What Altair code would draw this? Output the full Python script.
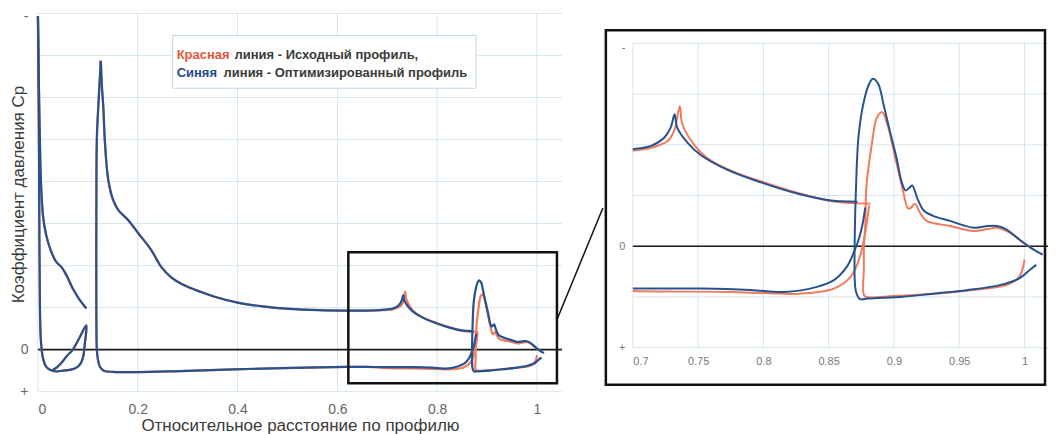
import altair as alt
import pandas as pd

# ---------------- data ----------------
# slat (shared by both profiles)
slat_upper_x = [0.0, 0.002, 0.004, 0.006, 0.010, 0.016, 0.026, 0.036, 0.048, 0.058, 0.070, 0.084, 0.097]
slat_upper_y = [7.94, 6.2, 4.9, 4.0, 3.2, 2.75, 2.35, 2.1, 1.95, 1.75, 1.45, 1.18, 0.98]
slat_lower_x = [0.0, 0.002, 0.003, 0.004, 0.006, 0.010, 0.016, 0.024, 0.037, 0.050, 0.064, 0.078, 0.086, 0.091, 0.094, 0.097,
                0.084, 0.070, 0.058, 0.048, 0.038, 0.030]
slat_lower_y = [7.94, 5.0, 2.5, 1.0, 0.2, -0.2, -0.40, -0.48, -0.52, -0.50, -0.48, -0.42, -0.32, -0.15, 0.15, 0.58,
                0.30, 0.00, -0.15, -0.30, -0.42, -0.48]

# main element, forward part (both profiles coincide)
main_upper_front_x = [0.126, 0.128, 0.131, 0.134, 0.141, 0.151, 0.161, 0.181, 0.201, 0.227, 0.247, 0.267, 0.290, 0.327,
                      0.354, 0.400, 0.450, 0.504, 0.564, 0.617, 0.660]
main_upper_front_y = [6.87, 6.3, 5.77, 4.98, 4.03, 3.55, 3.32, 3.08, 2.77, 2.37, 1.97, 1.72, 1.55, 1.37,
                      1.26, 1.12, 1.03, 0.97, 0.94, 0.93, 0.93]
main_lower_front_x = [0.126, 0.121, 0.118, 0.117, 0.117, 0.118, 0.120, 0.124, 0.132, 0.150, 0.200, 0.284, 0.450, 0.617, 0.660]
main_lower_front_y = [6.87, 5.8, 5.0, 3.0, 1.0, 0.0, -0.22, -0.40, -0.50, -0.53, -0.535, -0.51, -0.45, -0.41, -0.41]

# main element, aft part
blue_main_upper_x = [0.700, 0.714, 0.724, 0.729, 0.732, 0.734, 0.742, 0.752, 0.773, 0.798, 0.823, 0.849, 0.872]
blue_main_upper_y = [0.957, 0.99, 1.07, 1.17, 1.30, 1.17, 1.02, 0.90, 0.75, 0.63, 0.53, 0.457, 0.44]
red_main_upper_x = [0.700, 0.714, 0.727, 0.732, 0.736, 0.738, 0.747, 0.757, 0.778, 0.803, 0.828, 0.854, 0.882]
red_main_upper_y = [0.943, 0.97, 1.04, 1.15, 1.38, 1.20, 1.00, 0.87, 0.73, 0.62, 0.52, 0.44, 0.42]
blue_main_lower_x = [0.700, 0.752, 0.790, 0.816, 0.841, 0.854, 0.864, 0.869, 0.873, 0.876, 0.878]
blue_main_lower_y = [-0.417, -0.417, -0.43, -0.45, -0.40, -0.333, -0.20, -0.067, 0.067, 0.22, 0.38]
red_main_lower_x = [0.700, 0.776, 0.828, 0.854, 0.867, 0.874, 0.878, 0.881]
red_main_lower_y = [-0.44, -0.45, -0.467, -0.417, -0.30, -0.10, 0.133, 0.40]

# flap
blue_flap_x = [1.009, 1.004, 0.996, 0.981, 0.956, 0.930, 0.905, 0.880, 0.874, 0.871, 0.870, 0.870, 0.871, 0.873,
               0.877, 0.881, 0.884, 0.888, 0.892, 0.897, 0.902, 0.906, 0.909, 0.912, 0.914, 0.918, 0.923, 0.930,
               0.943, 0.961, 0.972, 0.979, 0.986, 0.996, 1.007, 1.014]
blue_flap_y = [-0.183, -0.233, -0.317, -0.383, -0.433, -0.467, -0.50, -0.515, -0.52, -0.45, -0.333, 0.10, 0.60, 1.10,
               1.43, 1.60, 1.65, 1.60, 1.40, 1.13, 0.87, 0.63, 0.55, 0.58, 0.60, 0.47, 0.35, 0.30,
               0.25, 0.183, 0.20, 0.20, 0.167, 0.067, -0.033, -0.083]
red_flap_x = [1.000, 0.996, 0.986, 0.960, 0.930, 0.900, 0.879, 0.877, 0.877, 0.877, 0.878, 0.879, 0.883, 0.887,
              0.891, 0.895, 0.900, 0.906, 0.911, 0.913, 0.916, 0.920, 0.925, 0.943, 0.961, 0.972, 0.979, 0.989,
              1.001, 1.007]
red_flap_y = [-0.133, -0.30, -0.383, -0.43, -0.467, -0.49, -0.50, -0.48, -0.20, 0.00, 0.20, 0.60, 1.00, 1.27,
              1.32, 1.20, 0.93, 0.60, 0.37, 0.38, 0.42, 0.33, 0.25, 0.20, 0.15, 0.17, 0.183, 0.133,
              0.017, -0.03]

# zoom box (left panel, data units) and connector
zoom_box = {"x": 0.622, "x2": 1.04, "y": -0.80, "y2": 2.32}
connector = {"x": 1.04, "y": 0.71, "x2": 1.132, "y2": 3.37}

legend_words = ["Красная", "Синяя"]
legend_rest = ["линия - Исходный профиль,", "линия - Оптимизированный профиль"]

# gridlines and tick labels
grid_x_left = [0, 0.2, 0.4, 0.6, 0.8, 1.0]
grid_y_left = [-1, 0, 1, 2, 3, 4, 5, 6, 7, 8]
label_y_left = [-1, 0, 7.93]            # "+", "0", "-"
grid_x_right = [0.7, 0.75, 0.8, 0.85, 0.9, 0.95, 1.0]
grid_y_right = [-1, -0.5, 0, 0.5, 1, 1.5, 2]
label_y_right = [-1, 0, 1.96]           # "+", "0", "-"

# ---------------- build tables ----------------
def path(seg, xs, ys):
    return [{"seg": seg, "i": i, "x": a, "y": b} for i, (a, b) in enumerate(zip(xs, ys))]

blue_rows = (path("slat_u", slat_upper_x, slat_upper_y) + path("slat_l", slat_lower_x, slat_lower_y)
             + path("main_u", main_upper_front_x + blue_main_upper_x, main_upper_front_y + blue_main_upper_y)
             + path("main_l", main_lower_front_x + blue_main_lower_x, main_lower_front_y + blue_main_lower_y)
             + path("flap", blue_flap_x, blue_flap_y))
red_rows = (path("slat_u", slat_upper_x, slat_upper_y) + path("slat_l", slat_lower_x, slat_lower_y)
            + path("main_u", main_upper_front_x + red_main_upper_x, main_upper_front_y + red_main_upper_y)
            + path("main_l", main_lower_front_x + red_main_lower_x, main_lower_front_y + red_main_lower_y)
            + path("flap", red_flap_x, red_flap_y))
df_blue = pd.DataFrame(blue_rows)
df_red = pd.DataFrame(red_rows)
dummy = pd.DataFrame({"a": [0]})

BLUE = "#27528f"
RED = "#f07a5c"
GRID = "#d6e5f0"
FONT = "Liberation Sans"
LBL = "datum.value<-0.5?'+':datum.value>1.5?'-':'0'"
NOVIEW = alt.ViewBackground(stroke="transparent", strokeWidth=0)

# ---------------- left panel ----------------
xs_L = alt.Scale(domain=[0, 1.05], nice=False, zero=False)
ys_L = alt.Scale(domain=[-1, 8], nice=False, zero=False)
ax_xL = alt.Axis(values=grid_x_left, format=".1~f", title="Относительное расстояние по профилю",
                 grid=False, domain=False, ticks=False, tickSize=0,
                 labelFontSize=14, labelColor="#666", labelPadding=11,
                 titleFontSize=17, titleColor="#3a3a3a", titleFontWeight="normal", titlePadding=1)
ax_yL = alt.Axis(values=label_y_left, labelExpr=LBL, grid=False, domain=False, ticks=False, tickSize=0,
                 labelFontSize=14, labelColor="#666", labelPadding=10,
                 title="Коэффициент давления Ср", titleFontSize=17, titleColor="#3a3a3a",
                 titleFontWeight="normal", titleX=-19, titleY=181, titleAngle=270,
                 titleBaseline="middle", titleAlign="center")


def XL(f):
    return alt.X(f + ":Q", scale=xs_L, axis=ax_xL)


def YL(f):
    return alt.Y(f + ":Q", scale=ys_L, axis=ax_yL)


def lines(df, color, sw, X, Y, clip):
    return alt.Chart(df).mark_line(color=color, strokeWidth=sw, clip=clip, strokeJoin="round",
                                   interpolate="catmull-rom").encode(
        x=X("x"), y=Y("y"), detail="seg:N", order="i:Q")


left_gx = alt.Chart(pd.DataFrame({"v": grid_x_left})).mark_rule(color=GRID, strokeWidth=1).encode(x=XL("v"))
left_gy = alt.Chart(pd.DataFrame({"v": grid_y_left})).mark_rule(color=GRID, strokeWidth=1).encode(y=YL("v"))
left_zero = alt.Chart(dummy).mark_rule(color="#1a1a1a", strokeWidth=1.6).encode(y=alt.Y(datum=0, scale=ys_L, axis=ax_yL))
left_box = alt.Chart(pd.DataFrame([zoom_box])).mark_rect(filled=False, stroke="#111", strokeWidth=2.5).encode(
    x=XL("x"), x2="x2:Q", y=YL("y"), y2="y2:Q")
left_conn = alt.Chart(pd.DataFrame([connector])).mark_rule(color="#111", strokeWidth=1.5, clip=False).encode(
    x=XL("x"), x2="x2:Q", y=YL("y"), y2="y2:Q")
leg_box = alt.Chart(dummy).mark_rect(fill="white", stroke="#c3d5e6", strokeWidth=1).encode(
    x=alt.value(135), x2=alt.value(439), y=alt.value(22), y2=alt.value(75))


def leg_text(txt, x, y, color):
    return alt.Chart(dummy).mark_text(align="left", baseline="middle", fontSize=13, fontWeight="bold",
                                      color=color, font=FONT).encode(
        x=alt.value(x), y=alt.value(y), text=alt.value(txt))


left = alt.layer(
    left_gx, left_gy, left_zero,
    lines(df_red, RED, 2.2, XL, YL, False),
    lines(df_blue, BLUE, 2.2, XL, YL, False),
    left_box, left_conn, leg_box,
    leg_text(legend_words[0], 139, 42, "#e8553a"),
    leg_text(legend_words[1], 139, 60, "#1f4a8a"),
    leg_text(legend_rest[0], 197, 42, "#3a3a3a"),
    leg_text(legend_rest[1], 186, 60, "#3a3a3a"),
).properties(width=525, height=379, view=NOVIEW)

# ---------------- right (zoomed) panel ----------------
xs_R = alt.Scale(domain=[0.7, 1.018], nice=False, zero=False)
ys_R = alt.Scale(domain=[-1, 2.295], nice=False, zero=False)
ax_xR = alt.Axis(values=grid_x_right, format=".2~f", title=None, grid=False,
                 domain=False, ticks=False, tickSize=0, labelFontSize=11, labelColor="#777", labelPadding=8)
ax_yR = alt.Axis(values=label_y_right, labelExpr=LBL, title=None, grid=False, domain=False, ticks=False,
                 tickSize=0, labelFontSize=11, labelColor="#777", labelPadding=8)


def XR(f):
    return alt.X(f + ":Q", scale=xs_R, axis=ax_xR)


def YR(f):
    return alt.Y(f + ":Q", scale=ys_R, axis=ax_yR)


right_gx = alt.Chart(pd.DataFrame({"v": grid_x_right})).mark_rule(color=GRID, strokeWidth=1).encode(
    x=XR("v"), y=alt.Y(datum=grid_y_right[0], scale=ys_R, axis=ax_yR), y2=alt.datum(grid_y_right[-1]))
right_gy = alt.Chart(pd.DataFrame({"v": grid_y_right})).mark_rule(color=GRID, strokeWidth=1).encode(y=YR("v"))
right_zero = alt.Chart(dummy).mark_rule(color="#1a1a1a", strokeWidth=1.6).encode(y=alt.Y(datum=0, scale=ys_R, axis=ax_yR))
right_box = alt.Chart(dummy).mark_rect(filled=False, stroke="#111", strokeWidth=2.5).encode(
    x=alt.value(-27), x2=alt.value(413), y=alt.value(17), y2=alt.value(372))

right = alt.layer(
    right_gx, right_gy, right_zero,
    lines(df_red, RED, 2.0, XR, YR, True),
    lines(df_blue, BLUE, 2.0, XR, YR, True),
    right_box,
).properties(width=416, height=335, view=NOVIEW)

chart = alt.hconcat(left, right, spacing=0).properties(
    padding={"left": 1, "top": 0, "right": 0, "bottom": 0}
).configure_view(strokeWidth=0, stroke=None).configure(font=FONT)

chart.save("out.html", embed_options={"renderer": "svg", "actions": False})
